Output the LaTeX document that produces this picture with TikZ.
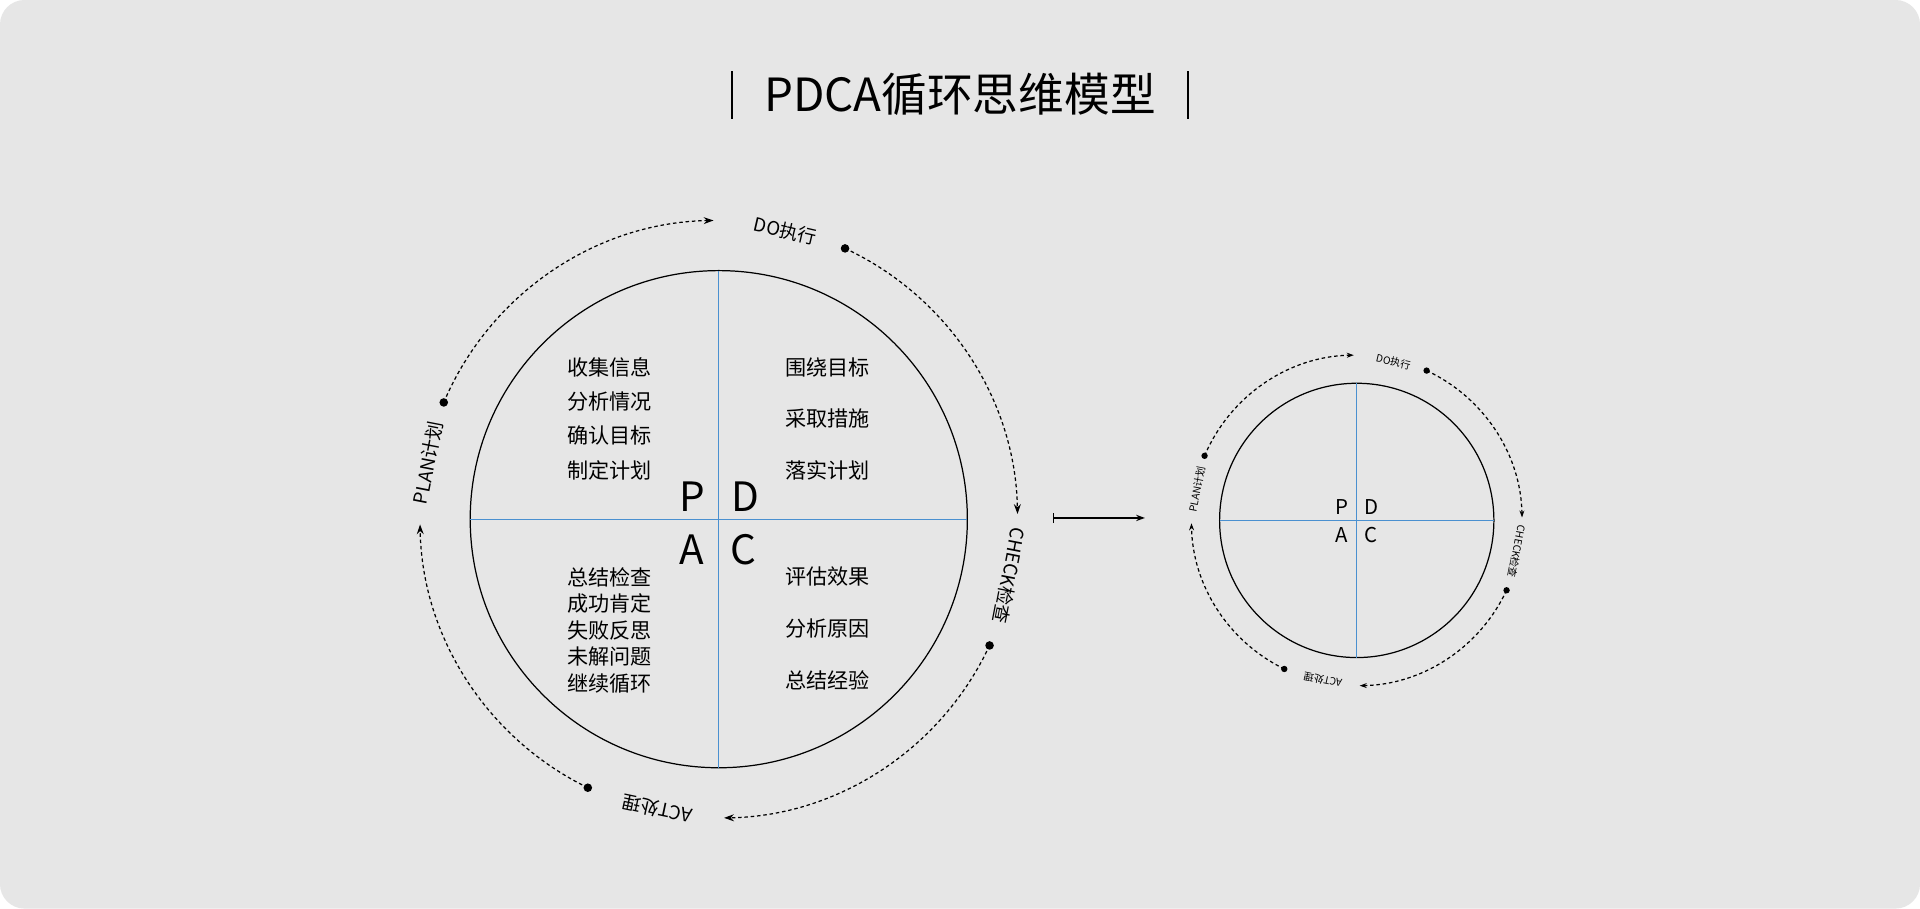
\documentclass[tikz,border=0pt]{standalone}
\usepackage{fontspec}
\setmainfont{Noto Sans CJK SC}
\usetikzlibrary{arrows.meta}
\def\u{0.012245cm}
\definecolor{bggray}{HTML}{E6E6E6}
\definecolor{axisblue}{HTML}{4A90D0}
\tikzset{
  ringarc/.style={dashed,dash pattern=on 1pt off 0.8pt,line width=0.35pt},
  axisline/.style={draw=axisblue,line width=0.35pt},
  listtext/.style={font=\fontsize{6}{7}\selectfont,inner sep=0pt},
}
% ring of four dashed arcs with dots, arrows and labels
\newcommand\pdcaring[4]{% #1 radius, #2 label font, #3 dot radius, #4 arrow length
  \foreach \s/\e/\a/\t in {157/91/169/PLAN计划, 65/1/77/DO执行, -25/-89/-11/CHECK检查, -116/-179/-102/ACT处理}{
    \draw[ringarc,-{Stealth[length=#4,width=0.7*#4]}] (\s:#1) arc[start angle=\s, end angle=\e, radius=#1];
    \fill (\s:#1) circle[radius=#3];
    \node[font=#2,inner sep=0pt,rotate=\a-90] (lab\a) at (\a:#1-2) {\t};
  }}
\begin{document}
\begin{tikzpicture}[x=\u,y=-\u]
\useasboundingbox (0,0) rectangle (1568,742);
\fill[white] (0,0) rectangle (1568,742);
\fill[bggray,rounded corners=20*\u] (0,0) rectangle (1568,742);
% title
\draw[line width=0.5pt] (598,58) -- (598,97) (970,58) -- (970,97);
\node[font=\fontsize{13}{15}\selectfont] (title) at (784,77) {PDCA循环思维模型};
% big model
\begin{scope}[shift={(587,424)},y=\u]
  \draw[line width=0.35pt] (0,0) circle[radius=203];
  \draw[axisline] (-203,0) -- (203,0) (0,-203) -- (0,203);
  \pdcaring{244}{\fontsize{5.3}{6}\selectfont}{3.5}{2.8pt}
\end{scope}
\foreach \l/\x/\y in {P/565/406, D/609/406, A/565/449, C/607/449}
  \node[font=\fontsize{11.5}{12}\selectfont,inner sep=0pt] (big\l) at (\x,\y) {\l};
\foreach \t [count=\i] in {收集信息,分析情况,确认目标,制定计划}
  \node[listtext] (pl\i) at (498,272+28*\i) {\t};
\foreach \t [count=\i] in {围绕目标,采取措施,落实计划}
  \node[listtext] (dl\i) at (676,258+42*\i) {\t};
\foreach \t [count=\i] in {总结检查,成功肯定,失败反思,未解问题,继续循环}
  \node[listtext] (al\i) at (498,449.5+21.7*\i) {\t};
\foreach \t [count=\i] in {评估效果,分析原因,总结经验}
  \node[listtext] (cl\i) at (676,428.5+42.5*\i) {\t};
% connector
\coordinate (from) at (860,423);
\coordinate (to) at (935,423);
\draw[line width=0.35pt,{Bar[width=3pt]}-{Stealth[length=2.5pt,width=1.8pt]}] (from) -- (to);
% small model
\begin{scope}[shift={(1108,425)},y=\u]
  \draw[line width=0.35pt] (0,0) circle[radius=112];
  \draw[axisline] (-112,0) -- (112,0) (0,-112) -- (0,112);
  \pdcaring{135}{\fontsize{2.9}{3.5}\selectfont}{2.6}{2pt}
\end{scope}
\foreach \l/\x/\y in {P/1096/414, D/1120/414, A/1096/437, C/1120/437}
  \node[font=\fontsize{5.8}{6}\selectfont,inner sep=0pt] (small\l) at (\x,\y) {\l};
\end{tikzpicture}
\end{document}
